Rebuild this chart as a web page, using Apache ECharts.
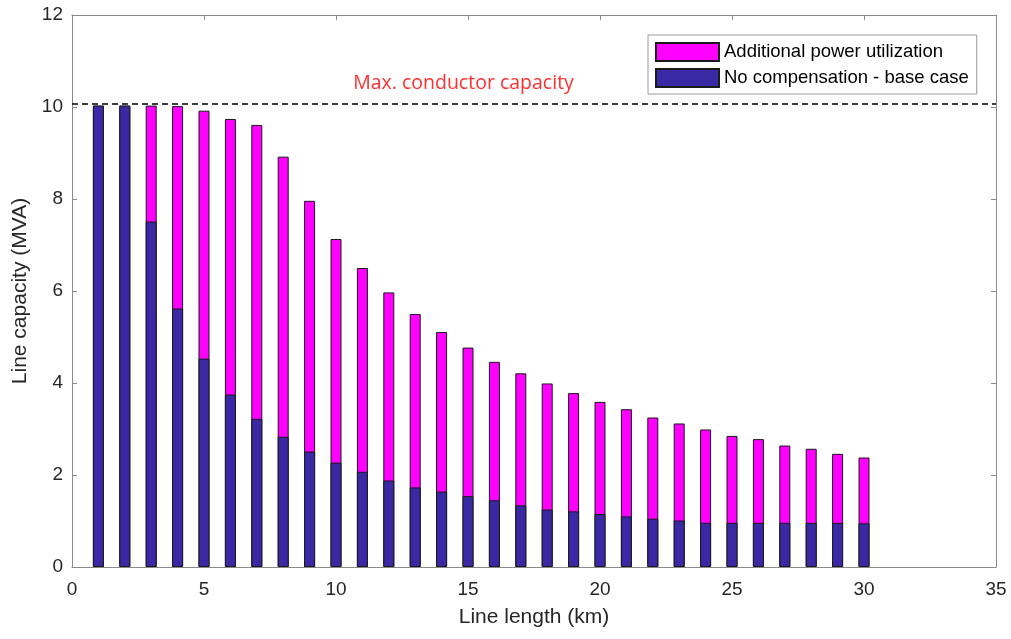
<!DOCTYPE html>
<html>
<head>
<meta charset="utf-8">
<script src="https://cdn.jsdelivr.net/npm/echarts@6/dist/echarts.min.js"></script>
<style>html,body{margin:0;padding:0;background:#fff;}#c{width:1011px;height:639px;}</style>
</head>
<body>
<div id="c"></div>
<script>
const lengths = [1,2,3,4,5,6,7,8,9,10,11,12,13,14,15,16,17,18,19,20,21,22,23,24,25,26,27,28,29,30];
const baseCase = [10.03,10.03,7.51,5.62,4.53,3.75,3.22,2.83,2.51,2.27,2.07,1.88,1.73,1.64,1.54,1.45,1.34,1.25,1.21,1.15,1.10,1.05,1.01,0.96,0.96,0.96,0.96,0.96,0.96,0.95];
const additional = [0,0,2.52,4.40,5.39,5.99,6.39,6.09,5.45,4.86,4.43,4.09,3.77,3.47,3.23,3.01,2.87,2.74,2.57,2.44,2.33,2.20,2.11,2.03,1.89,1.82,1.68,1.61,1.50,1.43];
const maxCapacity = 10.08;
const xTicks = [0,5,10,15,20,25,30,35];
const yTicks = [0,2,4,6,8,10,12];

const chart = echarts.init(document.getElementById('c'), null, {renderer:'canvas'});
const font = 'Liberation Sans, Arial, sans-serif';
const axisCol = '#8a8a8a';
const txtCol = '#262626';
function frame(extra){
  return Object.assign({
    axisLine:{show:true, onZero:false, lineStyle:{color:axisCol, width:1}},
    axisTick:{show:true, inside:true, length:5, lineStyle:{color:axisCol}},
    splitLine:{show:false}
  }, extra);
}
// stacked top = base + additional (drawn behind the base bar)
const totals = baseCase.map((b,i)=>+(b + additional[i]).toFixed(2));

chart.setOption({
  animation:false,
  backgroundColor:'#fff',
  grid:{left:72, right:15, top:15, bottom:72, containLabel:false},
  legend:{
    orient:'vertical', left:648, top:35,
    data:['Additional power utilization','No compensation - base case'],
    itemWidth:63, itemHeight:18, itemGap:6,
    padding:[7,8,6,7],
    borderColor:'#9a9a9a', borderWidth:1, backgroundColor:'#fff',
    icon:'rect',
    textStyle:{fontFamily:font, fontSize:18.5, color:'#000'}
  },
  xAxis:[
    frame({type:'value', min:0, max:35, interval:5, position:'bottom',
      name:'Line length (km)', nameLocation:'middle', nameGap:40,
      nameTextStyle:{fontFamily:font, fontSize:21, color:txtCol},
      axisLabel:{fontFamily:font, fontSize:19, color:txtCol, margin:13,
        formatter:v=>xTicks.includes(v)?String(v):''}}),
    frame({type:'value', min:0, max:35, interval:5, position:'top', axisLabel:{show:false}})
  ],
  yAxis:[
    frame({type:'value', min:0, max:12, interval:2, position:'left',
      name:'Line capacity (MVA)', nameLocation:'middle', nameGap:40, nameRotate:90,
      nameTextStyle:{fontFamily:font, fontSize:21, color:txtCol},
      axisLabel:{fontFamily:font, fontSize:19, color:txtCol, margin:9,
        formatter:v=>yTicks.includes(v)?String(v):''}}),
    frame({type:'value', min:0, max:12, interval:2, position:'right', axisLabel:{show:false}})
  ],
  series:[
    {
      name:'Additional power utilization', type:'bar', barWidth:11, barGap:'-100%', z:2,
      data:lengths.map((x,i)=>[x, totals[i]]),
      itemStyle:{color:'#ff00ff', borderColor:'#1a1a1a', borderWidth:1}
    },
    {
      name:'No compensation - base case', type:'bar', barWidth:11, barGap:'-100%', z:3,
      data:lengths.map((x,i)=>[x, baseCase[i]]),
      itemStyle:{color:'#3b28a5', borderColor:'#1a1a1a', borderWidth:1},
      markLine:{
        silent:true, symbol:['none','none'],
        label:{show:false},
        lineStyle:{color:'#000', type:[6,4], width:1.5},
        data:[{yAxis:maxCapacity}]
      },
      markPoint:{
        symbol:'rect', symbolSize:0,
        label:{show:true, formatter:'Max. conductor capacity', color:'#ff3030',
          fontFamily:'Open Sans, sans-serif', fontSize:19.5, position:'inside'},
        data:[{coord:[14.83, 10.52]}]
      }
    }
  ]
});
</script>
</body>
</html>
